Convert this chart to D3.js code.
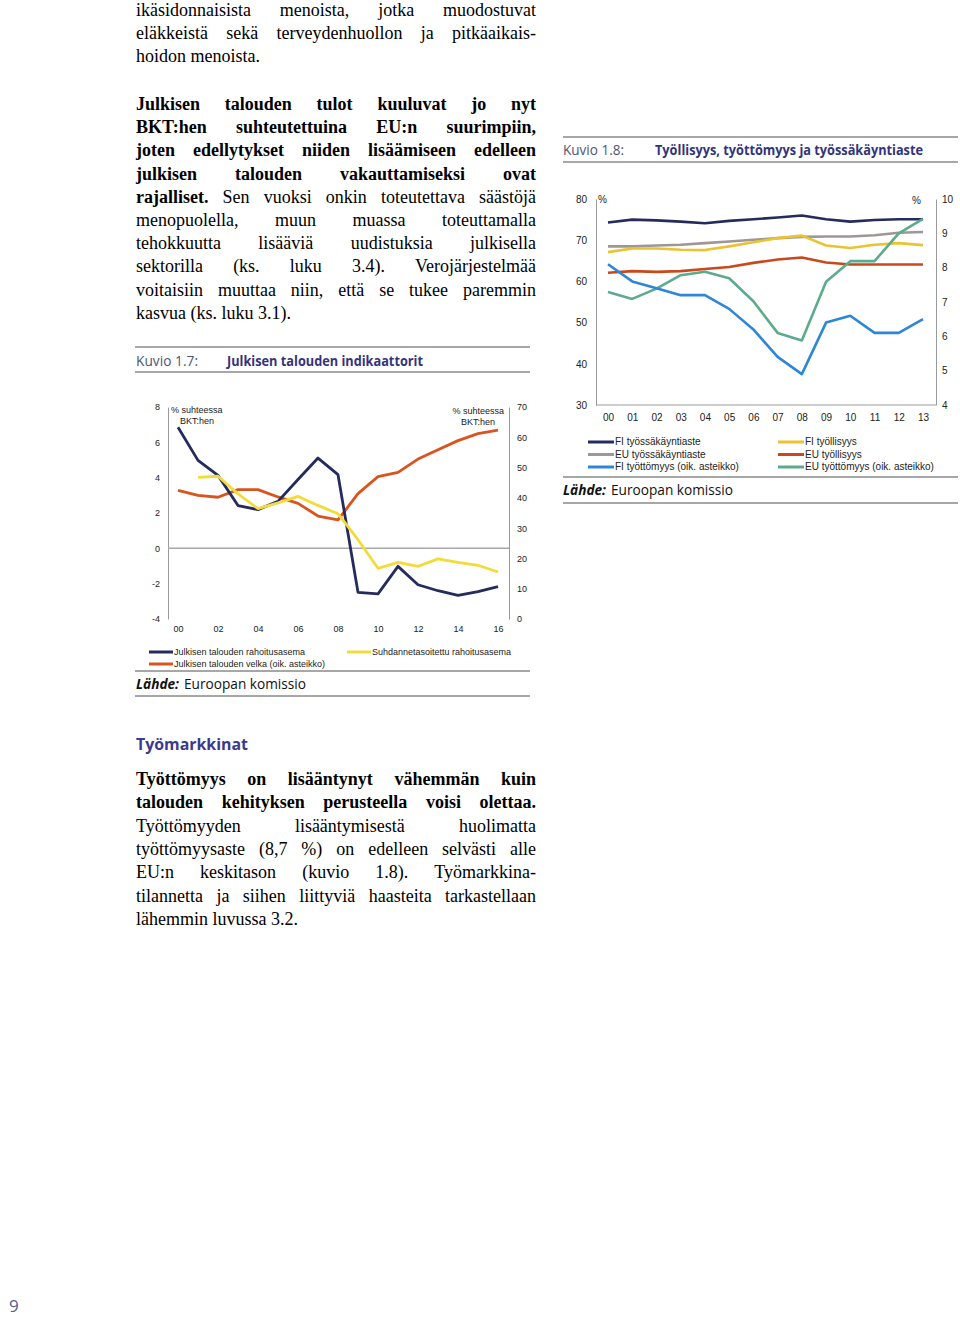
<!DOCTYPE html>
<html><head><meta charset="utf-8">
<script src="https://cdn.jsdelivr.net/npm/d3@7"></script>
<style>body{margin:0;background:#fff}svg{display:block}</style>
</head><body>
<script>
// ---------- Chart 1.7 data ----------
const yearsA = ["00","01","02","03","04","05","06","07","08","09","10","11","12","13","14","15","16"];
const yearTicksA = ["00","02","04","06","08","10","12","14","16"];
const rahoitusasema = [6.85,4.98,4.13,2.42,2.19,2.66,3.9,5.11,4.17,-2.49,-2.58,-1.02,-2.06,-2.4,-2.66,-2.45,-2.17];
const suhdannetasoitettu = [null,4.02,4.08,3.08,2.25,2.57,2.94,2.43,1.96,0.49,-1.13,-0.79,-1.02,-0.6,-0.79,-0.96,-1.34];
const velka = [42.5,40.8,40.2,42.7,42.7,40.3,38.2,34.0,32.7,41.4,47.0,48.4,52.8,55.9,58.9,61.2,62.4];
const ticksALeft = [-4,-2,0,2,4,6,8];
const ticksARight = [0,10,20,30,40,50,60,70];

// ---------- Chart 1.8 data ----------
const yearsB = ["00","01","02","03","04","05","06","07","08","09","10","11","12","13"];
const fiTyossakayntiaste = [74.3,75.0,74.8,74.5,74.1,74.7,75.1,75.5,76.0,75.1,74.5,74.9,75.1,75.1];
const euTyossakayntiaste = [68.5,68.5,68.7,68.9,69.3,69.7,70.1,70.5,70.8,70.9,70.9,71.2,71.8,72.0];
const fiTyollisyys = [67.1,68.0,68.0,67.7,67.6,68.5,69.5,70.5,71.1,68.7,68.1,68.9,69.3,68.8];
const euTyollisyys = [62.1,62.5,62.3,62.5,63.0,63.5,64.5,65.3,65.8,64.6,64.1,64.1,64.1,64.1];
const fiTyottomyys = [8.1,7.6,7.4,7.2,7.2,6.8,6.2,5.4,4.9,6.4,6.6,6.1,6.1,6.5];
const euTyottomyys = [7.29,7.09,7.39,7.78,7.88,7.69,7.02,6.1,5.88,7.59,8.19,8.19,9.0,9.42];
const ticksBLeft = [30,40,50,60,70,80];
const ticksBRight = [4,5,6,7,8,9,10];

const svg = d3.select("body").append("svg").attr("width",960).attr("height",1318);
svg.append("rect").attr("width",960).attr("height",1318).attr("fill","#fff");

const SERIF = "'Liberation Serif','Times New Roman',serif";
const SANS = "'Liberation Sans',Arial,sans-serif";
const GOTH = "'Open Sans','DejaVu Sans',sans-serif";
const NAVY = "#33337d";

// ---------- justified paragraphs ----------
function para(lines, x0, w, y0, lh){
  lines.forEach((ln,i)=>{
    const y = y0 + i*lh;
    const words = [];
    ln.s.forEach(([t,b]) => t.split(" ").filter(s=>s).forEach(s=>words.push({t:s,b})));
    const g = svg.append("g");
    const nodes = words.map(wd => g.append("text").attr("y",y)
      .attr("font-family",SERIF).attr("font-size",18).attr("fill","#000")
      .attr("font-weight",wd.b?"bold":"normal").text(wd.t));
    const widths = nodes.map(n=>n.node().getComputedTextLength());
    const total = d3.sum(widths);
    const gap = (ln.j && words.length>1) ? (w-total)/(words.length-1) : 4.5;
    let x = x0;
    nodes.forEach((n,k)=>{ n.attr("x",x); x += widths[k]+gap; });
  });
}

para([
  {s:[["ikäsidonnaisista menoista, jotka muodostuvat",false]],j:true},
  {s:[["eläkkeistä sekä terveydenhuollon ja pitkäaikais-",false]],j:true},
  {s:[["hoidon menoista.",false]],j:false}
],136,400,16,23.2);

para([
  {s:[["Julkisen talouden tulot kuuluvat jo nyt",true]],j:true},
  {s:[["BKT:hen suhteutettuina EU:n suurimpiin,",true]],j:true},
  {s:[["joten edellytykset niiden lisäämiseen edelleen",true]],j:true},
  {s:[["julkisen talouden vakauttamiseksi ovat",true]],j:true},
  {s:[["rajalliset.",true],["Sen vuoksi onkin toteutettava säästöjä",false]],j:true},
  {s:[["menopuolella, muun muassa toteuttamalla",false]],j:true},
  {s:[["tehokkuutta lisääviä uudistuksia julkisella",false]],j:true},
  {s:[["sektorilla (ks. luku 3.4). Verojärjestelmää",false]],j:true},
  {s:[["voitaisiin muuttaa niin, että se tukee paremmin",false]],j:true},
  {s:[["kasvua (ks. luku 3.1).",false]],j:false}
],136,400,110,23.2);

svg.append("text").attr("x",136).attr("y",750).attr("font-family",GOTH).attr("font-weight","bold")
  .attr("font-size",16).attr("fill","#3a3a92").attr("textLength",112).attr("lengthAdjust","spacingAndGlyphs").text("Työmarkkinat");

para([
  {s:[["Työttömyys on lisääntynyt vähemmän kuin",true]],j:true},
  {s:[["talouden kehityksen perusteella voisi olettaa.",true]],j:true},
  {s:[["Työttömyyden lisääntymisestä huolimatta",false]],j:true},
  {s:[["työttömyysaste (8,7 %) on edelleen selvästi alle",false]],j:true},
  {s:[["EU:n keskitason (kuvio 1.8). Työmarkkina-",false]],j:true},
  {s:[["tilannetta ja siihen liittyviä haasteita tarkastellaan",false]],j:true},
  {s:[["lähemmin luvussa 3.2.",false]],j:false}
],136,400,785,23.3);

svg.append("text").attr("x",9).attr("y",1312).attr("font-family",GOTH).attr("font-size",17)
  .attr("fill","#56608f").text("9");

// ---------- helpers ----------
function rule(x1,x2,y){
  svg.append("line").attr("x1",x1).attr("x2",x2).attr("y1",y).attr("y2",y)
    .attr("stroke","#8a8a8a").attr("stroke-width",1.5);
}
function header(x,y,kuvio,kw,title,tx,tw){
  svg.append("text").attr("x",x).attr("y",y).attr("font-family",GOTH).attr("font-size",14)
    .attr("fill","#50547a").attr("textLength",kw).attr("lengthAdjust","spacingAndGlyphs").text(kuvio);
  svg.append("text").attr("x",tx).attr("y",y).attr("font-family",GOTH).attr("font-size",14).attr("font-weight","bold")
    .attr("fill",NAVY).attr("textLength",tw).attr("lengthAdjust","spacingAndGlyphs").text(title);
}
function lahde(x,y){
  svg.append("text").attr("x",x).attr("y",y).attr("font-family",GOTH).attr("font-size",14)
    .attr("font-weight","bold").attr("font-style","italic").attr("fill","#111")
    .attr("textLength",43).attr("lengthAdjust","spacingAndGlyphs").text("Lähde:");
  svg.append("text").attr("x",x+48).attr("y",y).attr("font-family",GOTH).attr("font-size",14)
    .attr("fill","#111").attr("textLength",122).attr("lengthAdjust","spacingAndGlyphs").text("Euroopan komissio");
}
function styleAxis(g, showDomain, fs){
  g.selectAll("text").attr("font-family",SANS).attr("font-size",fs).attr("fill","#222");
  if(showDomain) g.select(".domain").attr("stroke","#9a9a9a").attr("stroke-width",1);
  else g.select(".domain").remove();
}
function small(x,y,t,anchor,fs){
  svg.append("text").attr("x",x).attr("y",y).attr("font-family",SANS).attr("font-size",fs||9)
    .attr("fill","#222").attr("text-anchor",anchor||"start").text(t);
}

// ---------- Chart 1.7 ----------
rule(135,530,347); rule(135,530,372);
header(136,366,"Kuvio 1.7:",62,"Julkisen talouden indikaattorit",227,196);

const xA = d3.scalePoint().domain(yearsA).range([178,498]);
const yA = d3.scaleLinear().domain([-4,8]).range([619,407]);
const yA2 = d3.scaleLinear().domain([0,70]).range([619,407]);

styleAxis(svg.append("g").attr("transform","translate(168,0)")
  .call(d3.axisLeft(yA).tickValues(ticksALeft).tickSize(0).tickSizeOuter(0).tickPadding(8).tickFormat(d=>String(d))), true, 9);
styleAxis(svg.append("g").attr("transform","translate(509,0)")
  .call(d3.axisRight(yA2).tickValues(ticksARight).tickSize(0).tickSizeOuter(0).tickPadding(8).tickFormat(d=>String(d))), true, 9);
styleAxis(svg.append("g").attr("transform","translate(0,619)")
  .call(d3.axisBottom(xA).tickValues(yearTicksA).tickSize(0).tickPadding(7)), false, 9);

svg.append("line").attr("x1",168).attr("x2",509).attr("y1",yA(0)).attr("y2",yA(0))
  .attr("stroke","#a8a8a8").attr("stroke-width",1.5);

small(171,413,"% suhteessa"); small(197,424,"BKT:hen","middle");
small(504,414,"% suhteessa","end"); small(478,425,"BKT:hen","middle");

const seriesA = [
  {name:"Julkisen talouden velka (oik. asteikko)", vals:velka, y:yA2, color:"#d9541f"},
  {name:"Julkisen talouden rahoitusasema", vals:rahoitusasema, y:yA, color:"#252b5c"},
  {name:"Suhdannetasoitettu rahoitusasema", vals:suhdannetasoitettu, y:yA, color:"#f1dc3a"}
];
seriesA.forEach(s=>{
  const line = d3.line().defined(d=>d[1]!=null).x(d=>xA(d[0])).y(d=>s.y(d[1]));
  svg.append("path").datum(yearsA.map((yr,i)=>[yr,s.vals[i]])).attr("d",line)
    .attr("fill","none").attr("stroke",s.color).attr("stroke-width",2.8)
    .attr("stroke-linejoin","round").attr("stroke-linecap","butt");
});

function legendItem(x,y,color,label,len,fs){
  svg.append("line").attr("x1",x).attr("x2",x+len).attr("y1",y).attr("y2",y)
    .attr("stroke",color).attr("stroke-width",3);
  small(x+len+1,y+3.3,label,"start",fs);
}
legendItem(149,652,seriesA[1].color,seriesA[1].name,24,9);
legendItem(149,664,seriesA[0].color,seriesA[0].name,24,9);
legendItem(347,652,seriesA[2].color,seriesA[2].name,24,9);

rule(135,530,671); rule(135,530,696);
lahde(136,689);

// ---------- Chart 1.8 ----------
rule(563,958,137); rule(563,958,162);
header(563,155,"Kuvio 1.8:",61,"Työllisyys, työttömyys ja työssäkäyntiaste",655,268);

const xB = d3.scalePoint().domain(yearsB).range([608,923]);
const yB = d3.scaleLinear().domain([30,80]).range([405,199]);
const yB2 = d3.scaleLinear().domain([4,10]).range([405,199]);

styleAxis(svg.append("g").attr("transform","translate(596,0)")
  .call(d3.axisLeft(yB).tickValues(ticksBLeft).tickSize(0).tickSizeOuter(0).tickPadding(9).tickFormat(d=>String(d))), true, 10);
styleAxis(svg.append("g").attr("transform","translate(936,0)")
  .call(d3.axisRight(yB2).tickValues(ticksBRight).tickSize(0).tickSizeOuter(0).tickPadding(6).tickFormat(d=>String(d))), true, 10);
styleAxis(svg.append("g").attr("transform","translate(0,405)")
  .call(d3.axisBottom(xB).tickSize(0).tickPadding(9)), false, 10);
svg.append("line").attr("x1",596).attr("x2",936).attr("y1",405).attr("y2",405)
  .attr("stroke","#9a9a9a").attr("stroke-width",1);

small(598,203,"%","start",10); small(921,204,"%","end",10);

const seriesB = [
  {name:"FI työssäkäyntiaste", vals:fiTyossakayntiaste, y:yB, color:"#252b5c"},
  {name:"FI työllisyys", vals:fiTyollisyys, y:yB, color:"#e9c332"},
  {name:"EU työssäkäyntiaste", vals:euTyossakayntiaste, y:yB, color:"#9d9896"},
  {name:"EU työllisyys", vals:euTyollisyys, y:yB, color:"#c9481c"},
  {name:"FI työttömyys (oik. asteikko)", vals:fiTyottomyys, y:yB2, color:"#2d86d7"},
  {name:"EU työttömyys (oik. asteikko)", vals:euTyottomyys, y:yB2, color:"#5cab8d"}
];
[2,1,0,3,5,4].forEach(k=>{
  const s = seriesB[k];
  const line = d3.line().x(d=>xB(d[0])).y(d=>s.y(d[1]));
  svg.append("path").datum(yearsB.map((yr,i)=>[yr,s.vals[i]])).attr("d",line)
    .attr("fill","none").attr("stroke",s.color).attr("stroke-width",2.6)
    .attr("stroke-linejoin","round");
});
seriesB.forEach((s,i)=>{
  const col = i%2, row = Math.floor(i/2);
  legendItem(col?778:588, 442+row*12.5, s.color, s.name, 26, 10);
});

rule(563,958,477); rule(563,958,503);
lahde(563,495);
</script>
</body></html>
